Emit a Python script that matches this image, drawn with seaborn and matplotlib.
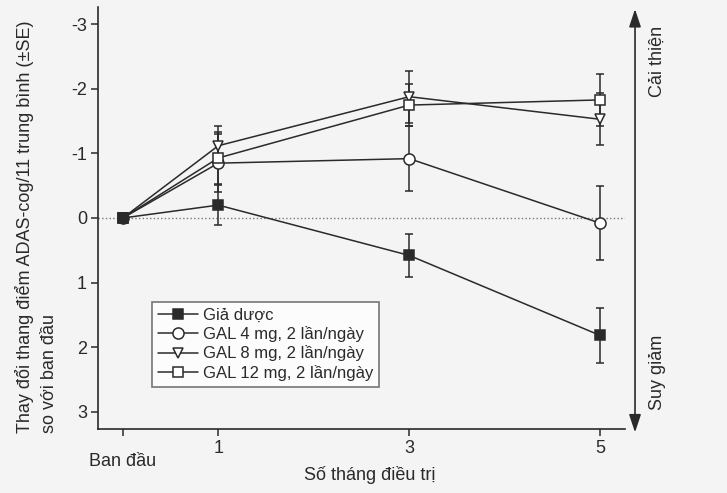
import numpy as np
import pandas as pd
import matplotlib.pyplot as plt
import matplotlib.transforms as mtransforms
import seaborn as sns

# Data (change from baseline in ADAS-cog/11, negative = improvement)
months = [0, 1, 3, 5]
tick_labels = ['Ban đầu', '1', '3', '5']
groups = ['Giả dược', 'GAL 4 mg, 2 lần/ngày', 'GAL 8 mg, 2 lần/ngày', 'GAL 12 mg, 2 lần/ngày']
placebo = [0, -0.20, 0.58, 1.82]
gal4 = [0, -0.85, -0.92, 0.08]
gal8 = [0, -1.12, -1.88, -1.53]
gal12 = [0, -0.93, -1.75, -1.83]
placebo_se = [0, 0.31, 0.33, 0.43]
gal4_se = [0, 0.45, 0.50, 0.57]
gal8_se = [0, 0.30, 0.40, 0.40]
gal12_se = [0, 0.40, 0.32, 0.40]

values = [placebo, gal4, gal8, gal12]
errors = [placebo_se, gal4_se, gal8_se, gal12_se]
markers = ['s', 'o', 'v', 's']
faces = ['#2a2a2a', 'white', 'white', 'white']
sizes = [6.5, 8, 7.5, 7.5]
layers = [5, 3, 3, 3]

sns.set_theme(style='ticks')
plt.rcParams['font.family'] = ['Liberation Sans', 'DejaVu Sans']

ink = '#2a2a2a'
fig = plt.figure(figsize=(7.27, 4.93), dpi=100, facecolor='#f4f4f4')
ax = fig.add_axes([98 / 727, 1 - 429 / 493, 527 / 727, 422 / 493])
ax.set_facecolor('#f4f4f4')

ax.axhline(0, color='#777777', lw=1, ls=':', zorder=1)

for name, vals, se, m, fc, ms, z in zip(groups, values, errors, markers, faces, sizes, layers):
    df = pd.DataFrame({'month': months, 'change': vals})
    ax.errorbar(months[1:], vals[1:], yerr=se[1:], fmt='none', ecolor=ink,
                elinewidth=1.1, capsize=3, capthick=1.1, zorder=2)
    sns.lineplot(data=df, x='month', y='change', ax=ax, color=ink, lw=1.1,
                 marker=m, markersize=ms, markerfacecolor=fc,
                 markeredgecolor=ink, markeredgewidth=1.1, label=name, zorder=z)

ax.set_xlim(-0.26, 5.26)
ax.set_ylim(3.27, -3.27)
ax.set_xticks(months)
ax.set_xticklabels(tick_labels)
ax.set_yticks([-3, -2, -1, 0, 1, 2, 3])
ax.set_yticklabels(['-3', '-2', '-1', '0', '1', '2', '3'])
ax.tick_params(axis='both', length=5, width=1.1, color=ink, labelsize=13,
               labelcolor=ink, pad=3)
# baseline label sits a bit lower
lab0 = ax.get_xticklabels()[0]
lab0.set_transform(lab0.get_transform() +
                   mtransforms.ScaledTranslation(0, -9 / 72, fig.dpi_scale_trans))

sns.despine(ax=ax)
for s in ['left', 'bottom']:
    ax.spines[s].set_color(ink)
    ax.spines[s].set_linewidth(1.2)

ax.set_xlabel('Số tháng điều trị', fontsize=13, color=ink)
ax.xaxis.set_label_coords(0.516, -0.088)
ax.set_ylabel('Thay đổi thang điểm ADAS-cog/11 trung bình (±SE)\nso với ban đầu',
              fontsize=13, color=ink, multialignment='left', linespacing=1.5)
ax.yaxis.set_label_coords(-0.076, 0.48)

leg = ax.legend(loc='upper left', bbox_to_anchor=(0.1025, 0.301), borderaxespad=0,
                fontsize=12, frameon=True, fancybox=False, handlelength=2.4,
                handletextpad=0.3, labelspacing=0.2, borderpad=0.35)
leg.get_frame().set_edgecolor('#555555')
leg.get_frame().set_linewidth(1.2)
leg.get_frame().set_facecolor('white')
for t in leg.get_texts():
    t.set_color(ink)

# right-hand arrow: improvement up, worsening down
ax.annotate('', xy=(1.019, 0.995), xytext=(1.019, -0.008), xycoords='axes fraction',
            arrowprops=dict(arrowstyle='<|-|>,head_length=0.9,head_width=0.3',
                            color=ink, lw=1.2, shrinkA=0, shrinkB=0,
                            mutation_scale=12),
            annotation_clip=False)
ax.text(1.061, 0.870, 'Cải thiện', transform=ax.transAxes, rotation=90,
        ha='center', va='center', fontsize=13, color=ink)
ax.text(1.061, 0.133, 'Suy giảm', transform=ax.transAxes, rotation=90,
        ha='center', va='center', fontsize=13, color=ink)

plt.savefig('out.png', dpi=100, facecolor=fig.get_facecolor())
